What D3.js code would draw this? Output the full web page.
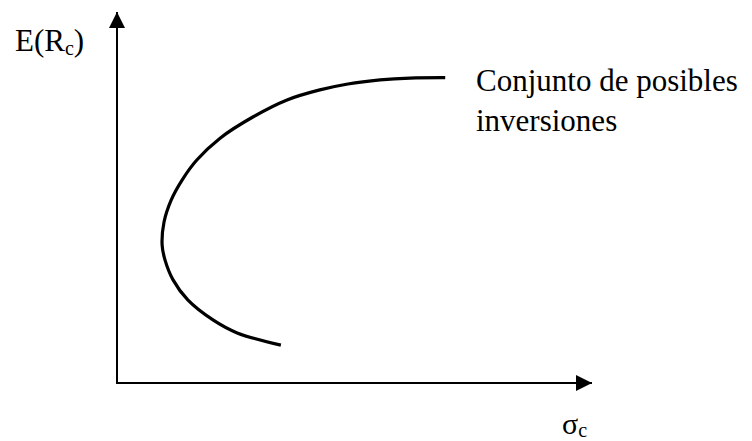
<!DOCTYPE html>
<html>
<head>
<meta charset="utf-8">
<script src="https://cdn.jsdelivr.net/npm/d3@7"></script>
<style>
  body { margin: 0; background: #fff; }
  svg { display: block; }
</style>
</head>
<body>
<div id="chart"></div>
<script>
// Curve (sigma_c, E(R_c)) in axis units 0..100
const sigmaValues = [34.5, 25.3, 20.2, 14.9, 11.8, 10.1, 9.5, 9.9, 11.4, 13.7, 16.8, 21.7, 28.6, 35.8, 42.7, 48.6, 55.4, 61.7, 69.1];
const returnValues = [10.2, 13.5, 17.0, 22.4, 27.8, 33.2, 37.2, 43.4, 49.3, 54.7, 60.1, 66.0, 71.7, 76.3, 79.0, 80.6, 81.7, 82.2, 82.3];
const curveLabel = ["Conjunto de posibles", "inversiones"];

const width = 752, height = 441;
const origin = { x: 117, y: 383 };
const axisEnd = { x: 592, y: 12 };

const svg = d3.select("#chart").append("svg")
  .attr("width", width)
  .attr("height", height);

const xScale = d3.scaleLinear().domain([0, 100]).range([origin.x, axisEnd.x]);
const yScale = d3.scaleLinear().domain([0, 100]).range([origin.y, axisEnd.y]);

// arrow heads
const defs = svg.append("defs");
defs.append("marker")
  .attr("id", "arrow")
  .attr("viewBox", "0 0 16 16")
  .attr("refX", 16).attr("refY", 8)
  .attr("markerWidth", 16).attr("markerHeight", 16)
  .attr("markerUnits", "userSpaceOnUse")
  .attr("orient", "auto")
  .append("path")
  .attr("d", "M0,0 L16,8 L0,16 Z")
  .attr("fill", "#000");

// axes
svg.append("line")
  .attr("x1", xScale(0)).attr("y1", yScale(0))
  .attr("x2", xScale(0)).attr("y2", yScale(100))
  .attr("stroke", "#000").attr("stroke-width", 2)
  .attr("marker-end", "url(#arrow)");

svg.append("line")
  .attr("x1", xScale(0) - 1).attr("y1", yScale(0))
  .attr("x2", xScale(100)).attr("y2", yScale(0))
  .attr("stroke", "#000").attr("stroke-width", 2)
  .attr("marker-end", "url(#arrow)");

// curve
const points = sigmaValues.map((s, i) => [s, returnValues[i]]);
const line = d3.line()
  .x((d) => xScale(d[0]))
  .y((d) => yScale(d[1]))
  .curve(d3.curveCatmullRom.alpha(0.5));

svg.append("path")
  .datum(points)
  .attr("d", line)
  .attr("fill", "none")
  .attr("stroke", "#000")
  .attr("stroke-width", 3.2);

// labels
const serif = "'Liberation Serif', 'Times New Roman', serif";

const yLabel = svg.append("text")
  .attr("x", 15).attr("y", 51)
  .attr("font-family", serif)
  .attr("font-size", 31)
  .attr("fill", "#000");
yLabel.append("tspan").text("E(R");
yLabel.append("tspan").attr("font-size", 20).attr("dy", 4).text("c");
yLabel.append("tspan").attr("dy", -4).text(")");

const xLabel = svg.append("text")
  .attr("x", 562).attr("y", 434)
  .attr("font-family", serif)
  .attr("font-size", 30)
  .attr("fill", "#000");
xLabel.append("tspan").text("σ");
xLabel.append("tspan").attr("font-size", 20).attr("dy", 3).text("c");

svg.append("text")
  .attr("font-family", serif)
  .attr("font-size", 31)
  .attr("fill", "#000")
  .selectAll("tspan")
  .data(curveLabel)
  .join("tspan")
  .attr("x", 476)
  .attr("y", (d, i) => 91 + i * 40)
  .text((d) => d);
</script>
</body>
</html>
